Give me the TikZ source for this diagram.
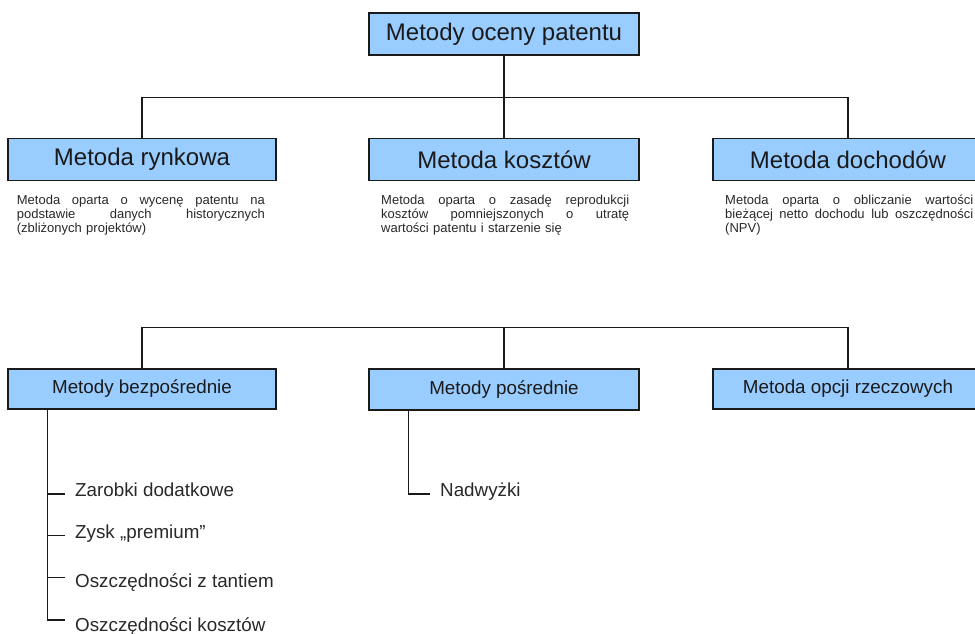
\documentclass[tikz,border=0pt]{standalone}
\usepackage{fontspec}
\setmainfont{Liberation Sans}
\definecolor{boxblue}{RGB}{153,204,255}
\definecolor{ink}{RGB}{26,26,26}
\definecolor{greytext}{RGB}{40,40,40}
% one justified line of a description: words separated by \hfill
\newcommand{\jline}[1]{\leavevmode\hbox to 248pt{#1}}
\begin{document}
\begin{tikzpicture}[x=1pt,y=-1pt,
  conn/.style={draw=ink, line width=1.5pt},
  box/.style={draw=ink, line width=1.4pt, fill=boxblue, inner sep=0pt, text=ink},
  tierbox/.style={box, minimum width=270pt, minimum height=42pt,
    font=\fontsize{24}{28}\selectfont},
  subbox/.style={box, minimum width=270pt, minimum height=41pt,
    font=\fontsize{18.8}{22}\selectfont},
  desc/.style={anchor=base west, text width=248pt, inner sep=0pt, align=left,
    text=greytext, font=\fontsize{13}{14.4}\selectfont},
  leaf/.style={anchor=base west, inner xsep=10pt, inner ysep=0pt,
    text=greytext, font=\fontsize{18.8}{22}\selectfont}]
\useasboundingbox (0,0) rectangle (975,634);
\clip (0,0) rectangle (975,634);

% root and first tier
\node[tierbox] (top)  at (504,34)    {Metody oceny patentu};
\node[tierbox, minimum width=268pt] (rynk) at (142,159.5) {Metoda rynkowa};
\node[tierbox] (kosz) at (504,159.5) {Metoda kosztów};
\node[tierbox] (doch) at (848,159.5) {Metoda dochodów};

\draw[conn] (top.south) -- (504,97.3) coordinate (j1);
\draw[conn] (rynk.north) |- (j1) -| (doch.north);
\draw[conn] (j1) -- (kosz.north);

% descriptions under the first tier
\node[desc] (d1) at (16.7,204) {%
  \jline{Metoda\hfill oparta\hfill o\hfill wycenę\hfill patentu\hfill na}\\
  \jline{podstawie\hfill danych\hfill historycznych}\\
  (zbliżonych projektów)};
\node[desc] (d2) at (381,204) {%
  \jline{Metoda\hfill oparta\hfill o\hfill zasadę\hfill reprodukcji}\\
  \jline{kosztów\hfill pomniejszonych\hfill o\hfill utratę}\\
  wartości patentu i starzenie się};
\node[desc] (d3) at (725,204) {%
  \jline{Metoda\hfill oparta\hfill o\hfill obliczanie\hfill wartości}\\
  \jline{bieżącej\hfill netto\hfill dochodu\hfill lub\hfill oszczędności}\\
  (NPV)};

% second tier
\node[subbox, minimum width=268pt, minimum height=40pt] (bezp) at (142,389) {Metody bezpośrednie};
\node[subbox] (posr)  at (504,389.5) {Metody pośrednie};
\node[subbox, minimum height=40pt] (opcji) at (848,389) {Metoda opcji rzeczowych};

\coordinate (j2) at (504,327.3);
\draw[conn] (bezp.north) |- (j2) -| (opcji.north);
\draw[conn] (j2) -- (posr.north);

% leaves of the direct methods
\node[leaf] (l1) at (65,496.7) {Zarobki dodatkowe};
\node[leaf] (l2) at (65,538.3) {Zysk „premium”};
\node[leaf] (l3) at (65,587.7) {Oszczędności z tantiem};
\node[leaf] (l4) at (65,631)   {Oszczędności kosztów};

\coordinate (s1) at ([xshift=-94.7pt]bezp.south);
\draw[conn] (s1) |- ([yshift=11pt]l4.base west);
\draw[conn] ([yshift=2.7pt]l1.base west) -- ++(-17.7,0);
\draw[conn] ([yshift=2.6pt]l2.base west) -- ++(-17.7,0);
\draw[conn] ([yshift=10.4pt]l3.base west) -- ++(-17.7,0);

% leaf of the indirect methods
\node[leaf] (n1) at (430,496.7) {Nadwyżki};
\draw[conn] ([xshift=-95.7pt]posr.south) |- ([yshift=2.7pt]n1.base west);
\end{tikzpicture}
\end{document}
